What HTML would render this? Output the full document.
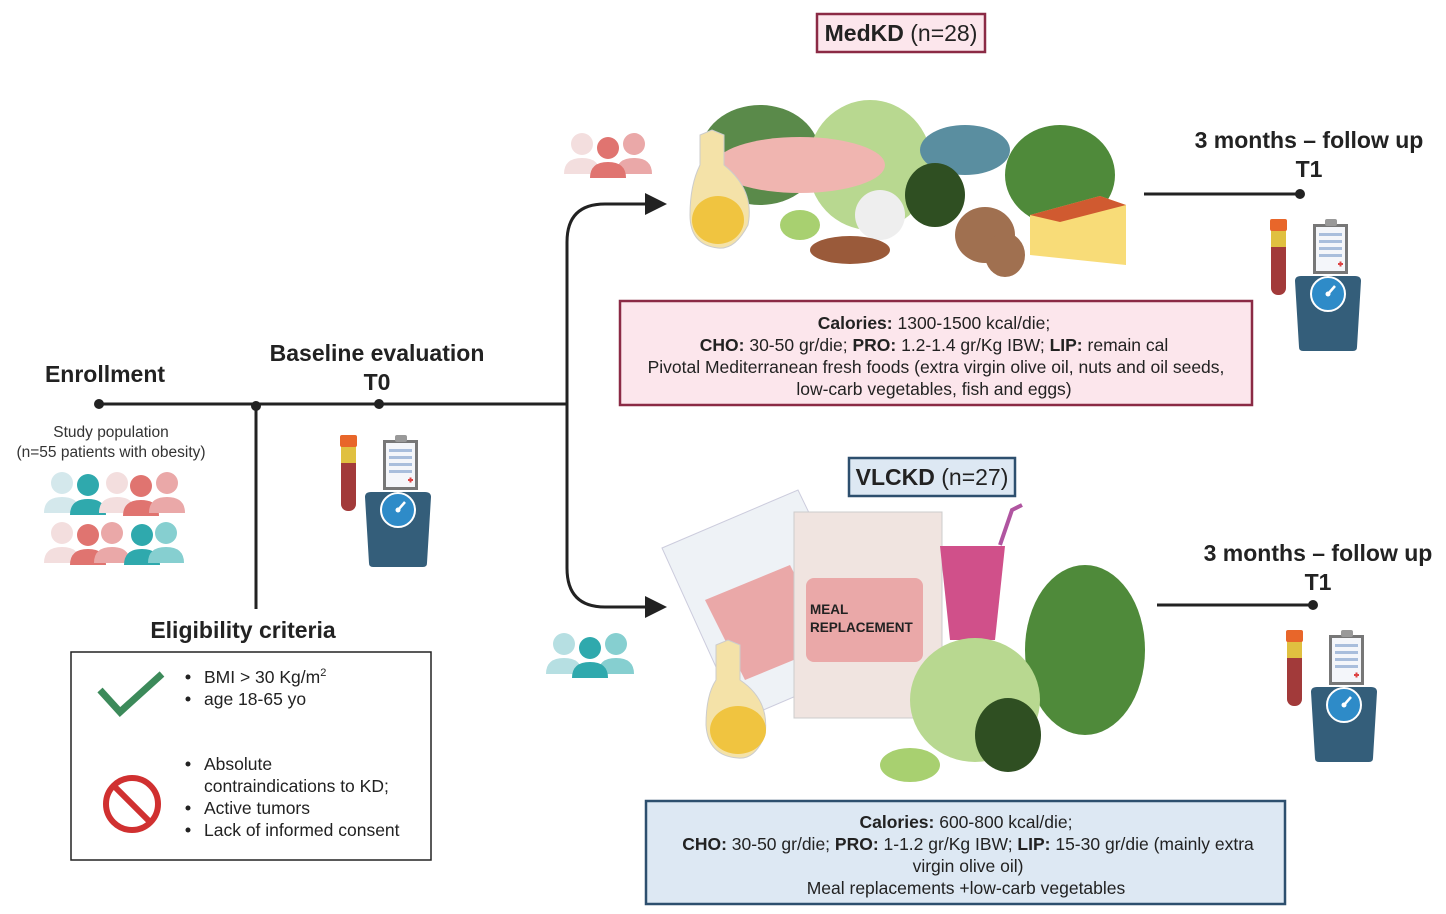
<!DOCTYPE html>
<html><head><meta charset="utf-8"><style>
html,body{margin:0;padding:0;background:#fff;}
svg{display:block;font-family:"Liberation Sans",sans-serif;}
.b{font-weight:bold;fill:#222;}
</style></head><body>
<svg width="1446" height="914" viewBox="0 0 1446 914" xmlns="http://www.w3.org/2000/svg">
<defs>
<g id="kit">
 <!-- tube -->
 <rect x="0" y="8" width="15" height="68" rx="7" fill="#a23a3a"/>
 <rect x="0" y="8" width="15" height="20" fill="#e0c040"/>
 <rect x="-1" y="0" width="17" height="12" rx="2" fill="#e8662a"/>
 <!-- clipboard -->
 <rect x="42" y="5" width="35" height="50" fill="#777"/>
 <rect x="45" y="8" width="29" height="44" fill="#f4f6fa"/>
 <rect x="54" y="0" width="12" height="7" rx="2" fill="#999"/>
 <rect x="48" y="14" width="23" height="3" fill="#a9bedc"/><rect x="48" y="21" width="23" height="3" fill="#a9bedc"/>
 <rect x="48" y="28" width="23" height="3" fill="#a9bedc"/><rect x="48" y="35" width="23" height="3" fill="#a9bedc"/>
 <rect x="67" y="44" width="5" height="2" fill="#d44"/><rect x="68.5" y="42.5" width="2" height="5" fill="#d44"/>
 <!-- scale -->
 <path d="M24 62 Q24 57 30 57 L84 57 Q90 57 90 62 L86 128 Q86 132 82 132 L32 132 Q28 132 28 128 Z" fill="#345e7a"/>
 <circle cx="57" cy="75" r="17" fill="#2e8bc8" stroke="#fff" stroke-width="2"/>
 <line x1="57" y1="75" x2="64" y2="67" stroke="#fff" stroke-width="2.5"/><circle cx="57" cy="75" r="2.5" fill="#fff"/>
</g>
<g id="person"><circle cx="0" cy="-14" r="11"/><path d="M-18 16 Q-18 0 0 0 Q18 0 18 16 Z"/></g>
<marker id="ar" markerWidth="10" markerHeight="10" refX="8" refY="5" orient="auto" markerUnits="userSpaceOnUse"><path d="M0 -3 L22 5 L0 13 Z" transform="scale(1)" fill="#222"/></marker>
</defs>

<!-- timeline -->
<line x1="99" y1="404" x2="567" y2="404" stroke="#222" stroke-width="3"/>
<line x1="256" y1="404" x2="256" y2="609" stroke="#222" stroke-width="3"/>
<circle cx="99" cy="404" r="5" fill="#222"/><circle cx="256" cy="406" r="5" fill="#222"/><circle cx="379" cy="404" r="5" fill="#222"/>
<path d="M646 204 L605 204 Q567 204 567 242 L567 568 Q567 607 605 607 L646 607" fill="none" stroke="#222" stroke-width="3"/>
<path d="M645 193 L667 204 L645 215 Z" fill="#222"/>
<path d="M645 596 L667 607 L645 618 Z" fill="#222"/>

<text x="105" y="382" font-size="23" class="b" text-anchor="middle">Enrollment</text>
<text x="377" y="361" font-size="23" class="b" text-anchor="middle">Baseline evaluation</text>
<text x="377" y="390" font-size="23" class="b" text-anchor="middle">T0</text>
<text x="111" y="437" font-size="15.5" fill="#333" text-anchor="middle">Study population</text>
<text x="111" y="457" font-size="15.5" fill="#333" text-anchor="middle">(n=55 patients with obesity)</text>

<!-- crowd -->
<g>
 <use href="#person" x="62" y="497" fill="#d4e8ec"/>
 <use href="#person" x="88" y="499" fill="#2fa9ad"/>
 <use href="#person" x="117" y="497" fill="#f3dede"/>
 <use href="#person" x="141" y="500" fill="#e07470"/>
 <use href="#person" x="167" y="497" fill="#eaa8a8"/>
 <use href="#person" x="62" y="547" fill="#f3dede"/>
 <use href="#person" x="88" y="549" fill="#e07470"/>
 <use href="#person" x="112" y="547" fill="#eaa8a8"/>
 <use href="#person" x="142" y="549" fill="#2fa9ad"/>
 <use href="#person" x="166" y="547" fill="#86cfd0"/>
</g>

<use href="#kit" x="341" y="435"/>
<use href="#kit" x="1271" y="219"/>
<use href="#kit" x="1287" y="630"/>

<!-- eligibility -->
<text x="243" y="638" font-size="23" class="b" text-anchor="middle">Eligibility criteria</text>
<rect x="71" y="652" width="360" height="208" fill="#fff" stroke="#222" stroke-width="1.5"/>
<path d="M100 690 L120 712 L162 674" fill="none" stroke="#3c8a5a" stroke-width="7"/>
<circle cx="132" cy="804" r="26" fill="none" stroke="#d03030" stroke-width="6"/>
<line x1="114" y1="786" x2="150" y2="822" stroke="#d03030" stroke-width="6"/>
<g font-size="17.5" fill="#222">
 <circle cx="188" cy="677" r="2.5" fill="#222"/><text x="204" y="683">BMI &gt; 30 Kg/m<tspan font-size="11" dy="-7">2</tspan></text>
 <circle cx="188" cy="699" r="2.5" fill="#222"/><text x="204" y="705">age 18-65 yo</text>
 <circle cx="188" cy="764" r="2.5" fill="#222"/><text x="204" y="770">Absolute</text>
 <text x="204" y="792">contraindications to KD;</text>
 <circle cx="188" cy="808" r="2.5" fill="#222"/><text x="204" y="814">Active tumors</text>
 <circle cx="188" cy="830" r="2.5" fill="#222"/><text x="204" y="836">Lack of informed consent</text>
</g>

<!-- MedKD -->
<rect x="817" y="14" width="168" height="38" fill="#fce6ec" stroke="#8b2a45" stroke-width="2.5"/>
<text x="901" y="41" font-size="23" text-anchor="middle" fill="#222"><tspan font-weight="bold">MedKD</tspan> (n=28)</text>
<g>
 <use href="#person" x="582" y="158" fill="#f3dede"/>
 <use href="#person" x="634" y="158" fill="#eaa8a8"/>
 <use href="#person" x="608" y="162" fill="#e07470"/>
</g>
<!-- food blobs top -->
<g>
 <ellipse cx="760" cy="155" rx="60" ry="50" fill="#5a8a4a"/>
 <ellipse cx="870" cy="165" rx="62" ry="65" fill="#b8d890"/>
 <ellipse cx="965" cy="150" rx="45" ry="25" fill="#5a8ea0"/>
 <ellipse cx="1060" cy="175" rx="55" ry="50" fill="#4f8a3a"/>
 <ellipse cx="800" cy="165" rx="85" ry="28" fill="#f0b5b0"/>
 <path d="M700 165 L700 135 L712 130 L724 135 L724 165 Q755 190 748 225 Q735 250 718 248 Q690 245 690 215 Q690 185 700 165Z" fill="#f4e2a8" stroke="#ccc"/>
 <ellipse cx="718" cy="220" rx="26" ry="24" fill="#f0c440"/>
 <ellipse cx="935" cy="195" rx="30" ry="32" fill="#2f4f22"/>
 <ellipse cx="880" cy="215" rx="25" ry="25" fill="#eee"/>
 <ellipse cx="800" cy="225" rx="20" ry="15" fill="#a8d070"/>
 <ellipse cx="850" cy="250" rx="40" ry="14" fill="#9a5a3a"/>
 <ellipse cx="985" cy="235" rx="30" ry="28" fill="#a07050"/>
 <ellipse cx="1005" cy="255" rx="20" ry="22" fill="#a07050"/>
 <path d="M1030 215 L1100 196 L1126 205 L1126 265 L1030 255 Z" fill="#f8dc78"/>
 <path d="M1030 215 L1100 196 L1126 205 L1060 222 Z" fill="#d05a30"/>
</g>
<!-- follow up top -->
<text x="1309" y="148" font-size="23" class="b" text-anchor="middle">3 months – follow up</text>
<text x="1309" y="177" font-size="23" class="b" text-anchor="middle">T1</text>
<line x1="1144" y1="194" x2="1300" y2="194" stroke="#222" stroke-width="3"/>
<circle cx="1300" cy="194" r="5" fill="#222"/>

<rect x="620" y="301" width="632" height="104" fill="#fce6ec" stroke="#8b2a45" stroke-width="2.5"/>
<g font-size="17.5" fill="#222" text-anchor="middle">
 <text x="934" y="329"><tspan font-weight="bold">Calories:</tspan> 1300-1500 kcal/die;</text>
 <text x="934" y="351"><tspan font-weight="bold">CHO:</tspan> 30-50 gr/die; <tspan font-weight="bold">PRO:</tspan> 1.2-1.4 gr/Kg IBW; <tspan font-weight="bold">LIP:</tspan> remain cal</text>
 <text x="936" y="373">Pivotal Mediterranean fresh foods (extra virgin olive oil, nuts and oil seeds,</text>
 <text x="934" y="395">low-carb vegetables, fish and eggs)</text>
</g>

<!-- VLCKD -->
<rect x="849" y="458" width="166" height="38" fill="#dde8f3" stroke="#2d4f6e" stroke-width="2.5"/>
<text x="932" y="485" font-size="23" text-anchor="middle" fill="#222"><tspan font-weight="bold">VLCKD</tspan> (n=27)</text>
<g>
 <use href="#person" x="564" y="658" fill="#b6dfe2"/>
 <use href="#person" x="616" y="658" fill="#86cfd0"/>
 <use href="#person" x="590" y="662" fill="#2fa9ad"/>
</g>
<g>
 <path d="M662 548 L798 490 L880 660 L740 720 Z" fill="#eef2f6" stroke="#ccd" />
 <path d="M705 600 L790 565 L830 645 L745 680 Z" fill="#eaa8a8"/>
 <rect x="794" y="512" width="148" height="206" fill="#f0e4e0" stroke="#ccc"/>
 <rect x="806" y="578" width="117" height="84" rx="8" fill="#eaa8a8"/>
 <text x="810" y="614" font-size="13.5" font-weight="bold" fill="#222">MEAL</text>
 <text x="810" y="632" font-size="13.5" font-weight="bold" fill="#222">REPLACEMENT</text>
 <path d="M940 546 L1005 546 L995 640 L950 640 Z" fill="#d0508a"/>
 <path d="M1000 545 L1012 510 L1022 505" stroke="#b055a0" stroke-width="4" fill="none"/>
 <ellipse cx="1085" cy="650" rx="60" ry="85" fill="#4f8a3a"/>
 <ellipse cx="975" cy="700" rx="65" ry="62" fill="#b8d890"/>
 <ellipse cx="1008" cy="735" rx="33" ry="37" fill="#2f4f22"/>
 <ellipse cx="910" cy="765" rx="30" ry="17" fill="#a8d070"/>
 <path d="M716 680 L716 645 L728 640 L740 645 L740 680 Q770 700 765 735 Q755 760 738 758 Q708 756 706 725 Q706 695 716 680Z" fill="#f4e2a8" stroke="#ccc"/>
 <ellipse cx="738" cy="730" rx="28" ry="24" fill="#f0c440"/>
</g>
<text x="1318" y="561" font-size="23" class="b" text-anchor="middle">3 months – follow up</text>
<text x="1318" y="590" font-size="23" class="b" text-anchor="middle">T1</text>
<line x1="1157" y1="605" x2="1313" y2="605" stroke="#222" stroke-width="3"/>
<circle cx="1313" cy="605" r="5" fill="#222"/>

<rect x="646" y="801" width="639" height="103" fill="#dde8f3" stroke="#2d4f6e" stroke-width="2.5"/>
<g font-size="17.5" fill="#222" text-anchor="middle">
 <text x="966" y="828"><tspan font-weight="bold">Calories:</tspan> 600-800 kcal/die;</text>
 <text x="968" y="850"><tspan font-weight="bold">CHO:</tspan> 30-50 gr/die; <tspan font-weight="bold">PRO:</tspan> 1-1.2 gr/Kg IBW; <tspan font-weight="bold">LIP:</tspan> 15-30 gr/die (mainly extra</text>
 <text x="968" y="872">virgin olive oil)</text>
 <text x="966" y="894">Meal replacements +low-carb vegetables</text>
</g>
</svg>
</body></html>
